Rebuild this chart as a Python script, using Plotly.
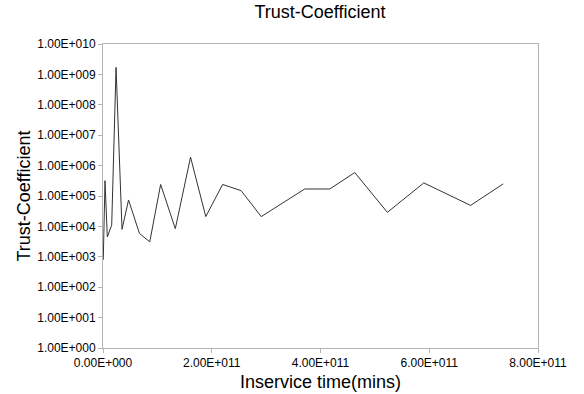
import plotly.graph_objects as go

# Inservice time (mins) and corresponding trust coefficient
inservice_time = [
    5e8, 3.7e9, 7.9e9, 1.6e10, 2.4e10, 3.5e10, 4.7e10, 6.7e10, 8.6e10,
    1.06e11, 1.33e11, 1.61e11, 1.89e11, 2.2e11, 2.54e11, 2.91e11,
    3.71e11, 4.17e11, 4.63e11, 5.23e11, 5.9e11, 6.76e11, 7.36e11,
]
trust_coefficient = [
    8e2, 3.2e5, 4.5e3, 1.1e4, 1.7e9, 8e3, 7.4e4, 5.9e3, 3.1e3,
    2.4e5, 8.4e3, 1.9e6, 2.1e4, 2.4e5, 1.5e5, 2.1e4,
    1.7e5, 1.7e5, 5.9e5, 2.9e4, 2.7e5, 4.9e4, 2.5e5,
]

x_tick_vals = [0, 2e11, 4e11, 6e11, 8e11]
x_tick_text = ["0.00E+000", "2.00E+011", "4.00E+011", "6.00E+011", "8.00E+011"]
y_tick_vals = [10 ** k for k in range(0, 11)]
y_tick_text = ["1.00E+%03d" % k for k in range(0, 11)]

font_family = "Liberation Sans, Arial, sans-serif"
frame_color = "#b4b4b4"

fig = go.Figure()
fig.add_trace(go.Scatter(
    x=inservice_time,
    y=trust_coefficient,
    mode="lines",
    line=dict(color="#333333", width=1),
    showlegend=False,
))

fig.update_layout(
    width=584,
    height=394,
    margin=dict(l=103, r=46, t=44, b=46, autoexpand=False),
    paper_bgcolor="white",
    plot_bgcolor="white",
    font=dict(family=font_family, color="#000000"),
    title=dict(
        text="Trust-Coefficient",
        font=dict(size=18, family=font_family, color="#000000"),
        x=0.548, xanchor="center",
        y=1 - 12 / 394, yanchor="middle", yref="container",
    ),
)

fig.update_xaxes(
    range=[0, 8e11],
    tickvals=x_tick_vals,
    ticktext=x_tick_text,
    tickfont=dict(size=12),
    ticks="outside",
    ticklen=4,
    tickcolor=frame_color,
    showline=True,
    mirror=True,
    linecolor=frame_color,
    linewidth=1,
    showgrid=False,
    zeroline=False,
    automargin=False,
    title=dict(text="Inservice time(mins)", font=dict(size=18), standoff=5),
)

fig.update_yaxes(
    type="log",
    range=[0, 10],
    tickvals=y_tick_vals,
    ticktext=y_tick_text,
    tickfont=dict(size=12),
    ticks="outside",
    ticklen=4,
    tickcolor=frame_color,
    showline=True,
    mirror=True,
    linecolor=frame_color,
    linewidth=1,
    showgrid=False,
    zeroline=False,
    automargin=False,
    title=dict(text="Trust-Coefficient", font=dict(size=18), standoff=1),
)

fig.write_html("out.html")
